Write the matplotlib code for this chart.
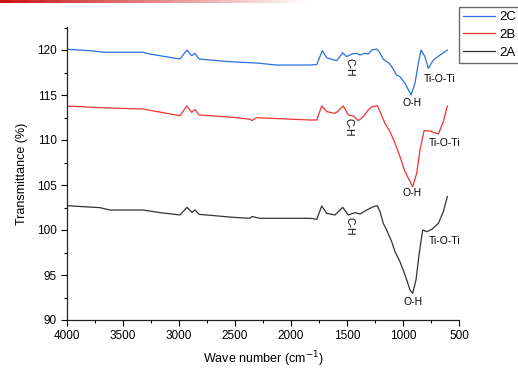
import numpy as np
import matplotlib
matplotlib.use("Agg")
import matplotlib.pyplot as plt
from matplotlib.ticker import MultipleLocator

plt.rcParams["font.family"] = ["Liberation Sans", "DejaVu Sans"]
plt.rcParams["font.size"] = 8.5

# FTIR spectra (wavenumber cm-1, transmittance %)
wn_2c = [4000, 3768, 3679, 3321, 3259, 2991, 2929, 2888, 2857, 2821, 2545, 2306, 2128,
         1830, 1770, 1720, 1681, 1637, 1592, 1538, 1503, 1458, 1413, 1384, 1339, 1310,
         1280, 1235, 1212, 1176, 1123, 1101, 1057, 1027, 982, 928, 893, 863, 839, 804,
         774, 729, 669, 604]
t_2c = [120.08, 119.9, 119.75, 119.75, 119.55, 119.0, 120.0, 119.37, 119.63, 119.0, 118.7,
        118.55, 118.33, 118.33, 118.38, 119.93, 119.15, 118.97, 118.81, 119.7, 119.26,
        119.56, 119.63, 119.44, 119.63, 119.56, 120.0, 120.1, 119.81, 118.97, 118.52,
        118.15, 117.22, 117.04, 116.3, 115.0, 116.3, 118.52, 120.0, 119.26, 117.96,
        118.89, 119.44, 120.0]

wn_2b = [4000, 3705, 3321, 2991, 2931, 2887, 2857, 2821, 2518, 2366, 2351, 2306, 1830,
         1770, 1726, 1681, 1607, 1586, 1533, 1488, 1443, 1399, 1354, 1310, 1280, 1229,
         1205, 1161, 1116, 1071, 1027, 982, 914, 878, 848, 812, 759, 729, 684, 640, 604]
t_2b = [113.78, 113.59, 113.44, 112.7, 113.78, 113.07, 113.4, 112.78, 112.52, 112.3,
        112.15, 112.48, 112.22, 112.22, 113.78, 113.15, 112.96, 113.15, 113.78, 112.78,
        112.67, 112.15, 112.59, 113.33, 113.7, 113.81, 113.15, 111.85, 110.93, 109.63,
        108.15, 106.48, 104.81, 106.3, 108.9, 111.03, 111.0, 110.85, 110.67, 112.04,
        113.78]

wn_2a = [4000, 3705, 3616, 3321, 3170, 2991, 2929, 2884, 2857, 2821, 2518, 2366, 2348,
         2277, 1830, 1770, 1726, 1681, 1607, 1538, 1488, 1428, 1384, 1324, 1265, 1229,
         1205, 1176, 1146, 1101, 1071, 1027, 982, 937, 914, 884, 855, 824, 788, 744, 684,
         640, 604]
t_2a = [102.7, 102.48, 102.22, 102.22, 101.93, 101.67, 102.52, 101.96, 102.22, 101.74,
        101.41, 101.3, 101.5, 101.3, 101.3, 101.19, 102.67, 101.85, 101.67, 102.52,
        101.67, 101.93, 101.78, 102.22, 102.59, 102.7, 102.04, 100.74, 100.0, 98.7,
        97.59, 96.48, 95.0, 93.33, 92.96, 94.44, 97.41, 100.0, 99.81, 100.07, 100.74,
        102.04, 103.7]

# band labels: (text, wavenumber, transmittance, rotation)
labels = [
    ("C-H", 1482, 118.1, 270), ("C-H", 1491, 111.44, 270), ("C-H", 1482, 100.44, 270),
    ("O-H", 922, 114.11, 0), ("O-H", 922, 104.11, 0), ("O-H", 910, 92.03, 0),
    ("Ti-O-Ti", 669, 116.78, 0), ("Ti-O-Ti", 625, 109.67, 0), ("Ti-O-Ti", 625, 98.81, 0),
]

fig = plt.figure(figsize=(5.18, 3.74), dpi=100)
ax = fig.add_axes([67 / 518, 1 - 320 / 374, 392 / 518, 293 / 374])

ax.plot(wn_2c, t_2c, color="#2b6fdc", lw=0.9, label="2C")
ax.plot(wn_2b, t_2b, color="#ee3333", lw=0.9, label="2B")
ax.plot(wn_2a, t_2a, color="#333333", lw=0.9, label="2A")

for txt, x, y, rot in labels:
    ax.text(x, y, txt, rotation=rot, ha="center", va="center", fontsize=7.5)

ax.set_xlim(4000, 500)
ax.set_ylim(90, 90 + 293 / 9)
ax.xaxis.set_major_locator(MultipleLocator(500))
ax.xaxis.set_minor_locator(MultipleLocator(250))
ax.yaxis.set_major_locator(MultipleLocator(5))
ax.yaxis.set_minor_locator(MultipleLocator(2.5))
ax.tick_params(which="major", direction="out", length=4, width=0.8, labelsize=8.5)
ax.tick_params(which="minor", direction="out", length=2, width=0.8)
ax.spines["top"].set_visible(False)
ax.spines["right"].set_visible(False)
for s in ("left", "bottom"):
    ax.spines[s].set_linewidth(0.9)
    ax.spines[s].set_color("#222222")

ax.set_xlabel("Wave number (cm$^{-1}$)", fontsize=9, labelpad=5)
ax.set_ylabel("Transmittance (%)", fontsize=9, labelpad=6)

leg = ax.legend(loc="upper left", bbox_to_anchor=(459 / 518, 1 - 7 / 374),
                bbox_transform=fig.transFigure, fontsize=9.5, frameon=True,
                fancybox=False, borderaxespad=0, handlelength=2.4,
                handletextpad=0.35, labelspacing=0.43, borderpad=0.3)
leg.get_frame().set_edgecolor("#444444")
leg.get_frame().set_linewidth(1.0)

# red header strip at the very top left
strip = fig.add_axes([0, 1 - 3 / 374, 0.6, 3 / 374])
grad = np.linspace(0, 1, 256)[None, :]
strip.imshow(grad, aspect="auto", cmap=matplotlib.colors.LinearSegmentedColormap.from_list(
    "r", ["#cc1111", "#ffffff"]))
strip.axis("off")

fig.savefig("out.png", dpi=100)
